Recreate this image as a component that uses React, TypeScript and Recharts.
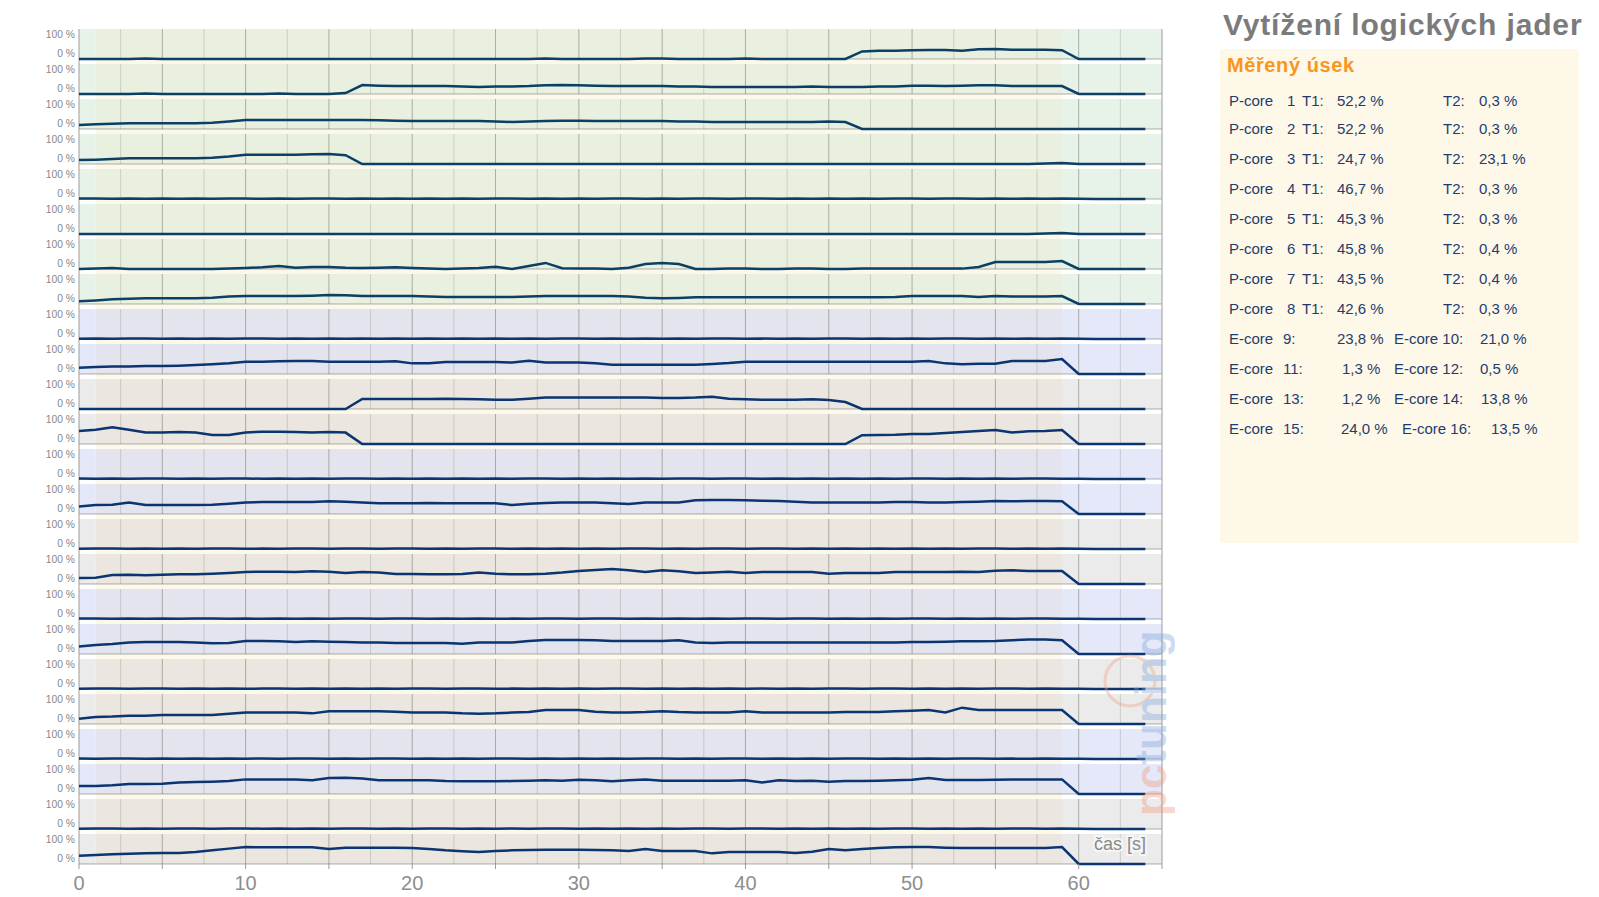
import React from 'react';
import { LineChart, Line, XAxis, YAxis, ReferenceArea, ReferenceLine } from 'recharts';

// time axis (seconds)
const timeSec: number[] = Array.from({ length: 65 }, (_, i) => i);

// per-row load values (%), one entry per second 0..64
const row01 = [0,0,0,0,3,0,0,0,0,0, 0,0,0,0,0,0,0,0,0,0, 0,0,0,0,0,0,0,0,2,0, 0,0,0,0,2,2,0,0,0,0, 2,0,0,0,0,0,0,40,44,44, 46,47,47,44,51,53,49,49,49,46, 0,0,0,0,0];
const row02 = [0,0,0,0,3,0,0,0,0,0, 0,0,3,0,0,0,5,47,44,42, 42,42,42,39,37,39,40,42,46,47, 46,44,42,42,42,42,39,39,37,37, 37,37,37,37,39,37,37,37,39,40, 44,44,42,44,46,46,42,42,42,42, 0,0,0,0,0];
const row03 = [21,25,28,30,30,30,30,30,33,40, 47,47,47,47,47,47,47,47,46,44, 42,42,42,42,42,40,37,40,42,44, 44,42,42,42,42,42,40,39,37,37, 37,37,37,37,37,40,37,0,0,0, 0,0,0,0,0,0,0,0,0,0, 0,0,0,0,0];
const row04 = [21,23,26,30,30,30,30,30,33,40, 49,49,49,49,51,53,46,0,0,0, 0,0,0,0,0,0,0,0,0,0, 0,0,0,0,0,0,0,0,0,0, 0,0,0,0,0,0,0,0,0,0, 0,0,0,0,0,0,0,0,2,5, 0,0,0,0,0];
const row05 = [2,3,1,3,1,2,1,2,1,3, 2,1,3,1,2,3,1,2,1,2, 1,3,1,2,1,2,3,1,2,1, 3,1,2,3,1,2,1,2,3,1, 3,2,1,2,1,3,1,2,1,2, 3,1,2,3,1,3,1,2,1,2, 1,0,0,0,0];
const row06 = [0,0,0,0,0,0,0,0,0,0, 0,0,0,0,0,0,0,0,0,0, 0,0,0,0,0,0,0,0,0,0, 0,0,0,0,0,0,0,0,0,0, 0,0,0,0,0,0,0,0,0,0, 0,0,0,0,0,0,0,0,2,5, 0,0,0,0,0];
const row07 = [0,3,5,0,0,0,0,0,0,2, 5,9,16,7,11,11,7,5,7,9, 5,2,0,3,5,12,0,16,32,4, 2,2,0,7,26,32,26,0,0,2, 2,0,0,2,2,0,0,2,2,2, 2,2,2,2,11,37,37,37,37,42, 0,0,0,0,0];
const row08 = [14,19,25,28,30,30,30,30,33,39, 42,42,42,42,44,47,46,42,42,42, 42,40,37,37,37,37,37,39,42,42, 42,42,42,39,33,30,32,35,35,35, 35,35,35,35,35,35,35,35,35,37, 42,42,42,42,37,42,39,39,39,42, 0,0,0,0,0];
const row09 = [1,3,1,2,3,1,2,1,3,1, 2,3,1,3,1,2,1,3,1,2, 1,2,1,3,1,2,1,3,1,2, 3,1,2,1,3,1,2,1,2,3, 1,2,1,3,1,2,3,1,2,1, 3,1,2,3,1,2,1,3,1,3, 1,0,0,0,0];
const row10 = [33,37,39,40,42,42,44,47,51,56, 65,65,67,68,68,65,65,65,65,67, 56,56,63,63,63,63,60,70,60,60, 60,56,49,49,49,49,49,49,53,58, 65,65,65,65,65,65,65,65,65,65, 65,68,56,51,54,54,68,68,68,79, 0,0,0,0,0];
const row11 = [0,0,0,0,0,0,0,0,0,0, 0,0,0,0,0,0,0,53,53,53, 53,53,54,53,51,49,49,54,60,61, 61,61,61,61,60,58,58,60,65,54, 51,49,49,49,51,47,37,0,0,0, 0,0,0,0,0,0,0,0,0,0, 0,0,0,0,0];
const row12 = [68,75,88,75,61,61,63,60,47,47, 61,65,65,63,60,63,60,0,0,0, 0,0,0,0,0,0,0,0,0,0, 0,0,0,0,0,0,0,0,0,0, 0,0,0,0,0,0,0,46,47,49, 53,53,58,63,68,74,61,67,68,74, 0,0,0,0,0];
const row13 = [2,1,3,1,2,3,1,2,1,2, 3,1,2,1,3,1,2,3,1,2, 1,3,1,2,1,3,1,2,3,1, 2,1,3,1,2,1,3,2,1,2, 3,1,2,1,3,1,2,1,3,1, 2,3,1,2,1,3,1,2,3,1, 1,0,0,0,0];
const row14 = [40,47,49,60,47,47,47,47,49,54, 60,63,63,63,63,67,65,60,56,56, 56,58,56,56,56,56,47,54,58,60, 60,60,56,53,60,60,61,72,74,74, 72,70,68,65,61,61,61,61,61,63, 63,61,61,63,65,68,67,68,68,67, 0,0,0,0,0];
const row15 = [1,2,3,1,2,1,3,1,2,3, 1,2,1,3,2,1,2,3,1,2, 3,1,2,1,2,3,1,3,1,2, 1,3,1,2,3,1,2,1,2,3, 1,2,3,1,2,1,3,1,2,1, 3,1,2,1,3,2,1,3,1,2, 1,0,0,0,0];
const row16 = [32,33,47,49,46,49,51,51,54,58, 63,65,65,63,67,65,58,63,60,53, 53,51,51,53,61,54,51,51,54,60, 68,74,79,72,63,72,67,58,61,65, 58,63,63,63,63,54,58,58,58,63, 63,63,63,65,63,70,72,68,68,68, 0,0,0,0,0];
const row17 = [2,3,1,2,1,3,1,2,3,1, 2,1,3,1,2,1,2,3,1,2, 3,1,2,1,3,1,2,1,3,2, 1,2,3,1,2,1,3,1,2,1, 3,2,1,2,3,1,2,1,3,1, 2,3,1,2,1,3,1,2,3,1, 1,0,0,0,0];
const row18 = [40,47,53,61,63,63,63,61,56,58, 68,68,67,63,67,65,63,61,60,58, 58,58,58,54,61,60,61,68,74,74, 74,72,68,68,68,68,72,61,58,60, 61,60,60,61,61,60,61,61,61,61, 63,63,65,67,67,68,72,77,77,72, 0,0,0,0,0];
const row19 = [1,3,2,1,2,3,1,2,1,3, 1,2,3,1,2,1,3,1,2,1, 2,3,1,2,3,1,2,1,3,1, 2,1,3,2,1,2,1,3,1,2, 1,3,1,2,1,3,2,1,2,3, 1,2,1,3,1,2,3,1,2,1, 1,0,0,0,0];
const row20 = [28,37,39,44,44,47,47,47,47,54, 61,61,61,61,56,67,67,67,67,65, 61,61,60,56,54,56,60,63,74,74, 74,65,61,61,63,67,63,61,60,60, 67,60,60,60,60,60,63,63,63,67, 70,74,61,86,74,74,74,74,74,74, 0,0,0,0,0];
const row21 = [2,1,2,3,1,2,1,3,1,2, 1,3,1,2,3,1,2,1,2,3, 1,2,1,3,1,2,3,1,2,1, 3,1,2,1,2,3,1,2,1,3, 2,1,3,1,2,1,2,3,1,2, 1,3,1,2,3,1,2,1,3,1, 1,0,0,0,0];
const row22 = [42,42,46,53,53,54,60,63,65,68, 77,77,77,77,72,84,86,82,72,72, 72,72,68,67,67,67,68,70,72,70, 75,72,67,72,77,70,70,70,70,70, 72,61,72,68,70,65,68,68,70,72, 75,84,74,74,74,75,77,77,77,77, 0,0,0,0,0];
const row23 = [1,2,3,1,2,1,2,3,1,2, 3,1,2,1,3,1,2,3,1,2, 1,3,2,1,2,1,3,1,2,3, 1,2,1,3,1,2,1,2,3,1, 2,3,1,2,1,3,1,2,1,3, 2,1,3,1,2,1,3,2,1,2, 1,0,0,0,0];
const row24 = [44,47,51,54,56,58,58,63,72,81, 89,88,88,88,88,79,86,86,86,86, 84,79,72,67,63,68,72,74,75,75, 75,74,72,68,79,68,68,68,56,63, 63,63,63,58,65,79,72,79,84,88, 89,89,86,84,84,84,84,84,84,89, 0,0,0,0,0];

const rows = [row01,row02,row03,row04,row05,row06,row07,row08,row09,row10,row11,row12,row13,row14,row15,row16,row17,row18,row19,row20,row21,row22,row23,row24];
const rowKinds = ['p','p','p','p','p','p','p','p','b','b','n','n','b','b','n','n','b','b','n','n','b','b','n','n'];

const yTickValues = [0, 100];
const xAxisTicks = [0,5,10,15,20,25,30,35,40,45,50,55,60,65];
const gridLinesX = [2.5,5,7.5,10,12.5,15,17.5,20,22.5,25,27.5,30,32.5,35,37.5,40,42.5,45,47.5,50,52.5,55,57.5,60,62.5];
const measuredFrom = 1;
const measuredTo = 59;

// legend / summary panel
const pCoreIds = ['1','2','3','4','5','6','7','8'];
const pCoreT1 = ['52,2 %','52,2 %','24,7 %','46,7 %','45,3 %','45,8 %','43,5 %','42,6 %'];
const pCoreT2 = ['0,3 %','0,3 %','23,1 %','0,3 %','0,3 %','0,4 %','0,4 %','0,3 %'];
const eCoreLeftIds = ['9:','11:','13:','15:'];
const eCoreLeftVals = ['23,8 %','1,3 %','1,2 %','24,0 %'];
const eCoreRightIds = ['E-core 10:','E-core 12:','E-core 14:','E-core 16:'];
const eCoreRightVals = ['21,0 %','0,5 %','13,8 %','13,5 %'];

// layout
const Y_MAX = 158;
const GAP_UNITS = 26.3;
const FONT = "'Liberation Sans', Arial, Helvetica, sans-serif";
const palettes: Record<string, { outer: string; inner: string; line: string }> = {
  p: { outer: '#e7f2e9', inner: '#e9f0e0', line: '#0b3f63' },
  b: { outer: '#e4e8f8', inner: '#e4e4ee', line: '#0a3570' },
  n: { outer: '#ebebeb', inner: '#ebe6df', line: '#0a3570' },
};
const legendBaselinesP = [106, 134.3, 164.3, 194.3, 224.3, 254.3, 284.3, 314.3];
const legendBaselinesE = [344.3, 374.3, 404.3, 434.3];
const eLeftValX = [1337, 1342, 1342, 1341];
const eRightIdX = [1394, 1394, 1394, 1402];
const eRightValX = [1480, 1480, 1481, 1491];

const YTick = (props: any) => {
  const { y, payload } = props;
  return (
    <text x={67} y={y - 2} textAnchor="end" fontSize={10.3} fontFamily={FONT} fill="#878787">
      {`${payload.value} %`}
    </text>
  );
};

const XTick = (props: any) => {
  const { x, y, payload } = props;
  if (payload.value % 10 !== 0) return <g />;
  return (
    <text x={x} y={y + 19} textAnchor="middle" fontSize={20} fontFamily={FONT} fill="#8e8e8e">
      {payload.value}
    </text>
  );
};

function CoreRow({ values, kind, last }: { values: number[]; kind: string; last: boolean }) {
  const pal = palettes[kind];
  const data = timeSec.map((t, i) => ({ t, v: values[i] }));
  const bottomY = last ? 0 : -GAP_UNITS;
  return (
    <LineChart
      width={1160}
      height={last ? 64 : 35}
      data={data}
      margin={{ top: 0, right: 6, bottom: last ? 0 : 5, left: 0 }}
      style={{ display: 'block' }}
    >
      <XAxis
        dataKey="t"
        type="number"
        domain={[0, 65]}
        ticks={xAxisTicks}
        interval={0}
        hide={!last}
        height={last ? 34 : 0}
        axisLine={false}
        tickLine={{ stroke: '#9a9a9a' }}
        tickSize={5}
        tick={(p: any) => <XTick {...p} />}
      />
      <YAxis
        type="number"
        domain={[0, Y_MAX]}
        ticks={yTickValues}
        interval={0}
        width={71}
        axisLine={false}
        tickLine={false}
        tick={(p: any) => <YTick {...p} />}
      />
      <ReferenceArea x1={0} x2={measuredFrom} fill={pal.outer} fillOpacity={1} stroke="none" zIndex={-300} />
      <ReferenceArea x1={measuredFrom} x2={measuredTo} fill={pal.inner} fillOpacity={1} stroke="none" zIndex={-300} />
      <ReferenceArea x1={measuredTo} x2={65} fill={pal.outer} fillOpacity={1} stroke="none" zIndex={-300} />
      {!last && (
        <ReferenceArea
          x1={measuredFrom}
          x2={measuredTo}
          y1={-GAP_UNITS}
          y2={0}
          fill="#fdf8ec"
          fillOpacity={1}
          stroke="none"
          ifOverflow="visible"
          zIndex={-300}
        />
      )}
      {gridLinesX.map((g) => (
        <ReferenceLine
          key={g}
          x={g}
          stroke={g % 5 === 0 ? 'rgba(80,85,75,0.42)' : 'rgba(80,85,75,0.2)'}
          strokeWidth={1}
          zIndex={-200}
        />
      ))}
      <ReferenceLine y={0} stroke="rgba(80,85,75,0.45)" strokeWidth={1} zIndex={-150} />
      <ReferenceLine
        segment={[{ x: 0, y: bottomY }, { x: 0, y: Y_MAX }]}
        stroke="#9c9c9c"
        strokeWidth={1}
        ifOverflow="visible"
        zIndex={-150}
      />
      <ReferenceLine
        segment={[{ x: 65, y: bottomY }, { x: 65, y: Y_MAX }]}
        stroke="#9c9c9c"
        strokeWidth={1}
        ifOverflow="visible"
        zIndex={-150}
      />
      <Line
        type="linear"
        dataKey="v"
        stroke={pal.line}
        strokeWidth={2.5}
        dot={false}
        activeDot={false}
        isAnimationActive={false}
      />
    </LineChart>
  );
}

export default function App() {
  const legendColor = '#1e3d6e';
  return (
    <div
      style={{
        position: 'fixed',
        left: 0,
        top: 0,
        width: 1599,
        height: 897,
        overflow: 'hidden',
        background: '#ffffff',
        fontFamily: FONT,
      }}
    >
      <div style={{ position: 'absolute', left: 8, top: 29 }}>
        {rows.map((vals, i) => (
          <CoreRow key={i} values={vals} kind={rowKinds[i]} last={i === rows.length - 1} />
        ))}
      </div>
      <svg
        width={1599}
        height={897}
        style={{ position: 'absolute', left: 0, top: 0, pointerEvents: 'none' }}
        fontFamily={FONT}
      >
        {/* watermark */}
        <g opacity={0.38}>
          <circle cx={1130} cy={681} r={25} fill="none" stroke="#f0a080" strokeWidth={3} />
          <g transform="translate(1166,816) rotate(-90)">
            <text x={0} y={0} fontSize={44} fontWeight="bold">
              <tspan fill="#f09a78">pc</tspan>
              <tspan fill="#7fa6dc">tuning</tspan>
            </text>
          </g>
        </g>
        {/* axis title */}
        <text
          x={1120}
          y={849.5}
          textAnchor="middle"
          fontSize={18}
          fill="#8a8a8a"
          stroke="#f6f6f6"
          strokeWidth={4}
          paintOrder="stroke"
        >
          čas [s]
        </text>

        {/* right panel */}
        <text x={1223} y={35} fontSize={30} fontWeight="bold" fill="#7b7b7b" letterSpacing={0.85}>
          Vytížení logických jader
        </text>
        <rect x={1220} y={49} width={359} height={494} fill="#fef8e8" />
        <text x={1227} y={71.7} fontSize={20} fontWeight="bold" fill="#f8961e" letterSpacing={0.6}>
          Měřený úsek
        </text>
        {pCoreIds.map((id, i) => (
          <g key={id} fontSize={15} fill={legendColor}>
            <text x={1229} y={legendBaselinesP[i]}>P-core</text>
            <text x={1287} y={legendBaselinesP[i]}>{id}</text>
            <text x={1302} y={legendBaselinesP[i]}>T1:</text>
            <text x={1337} y={legendBaselinesP[i]}>{pCoreT1[i]}</text>
            <text x={1443} y={legendBaselinesP[i]}>T2:</text>
            <text x={1479} y={legendBaselinesP[i]}>{pCoreT2[i]}</text>
          </g>
        ))}
        {eCoreLeftIds.map((id, i) => (
          <g key={id} fontSize={15} fill={legendColor}>
            <text x={1229} y={legendBaselinesE[i]}>E-core</text>
            <text x={1283} y={legendBaselinesE[i]}>{id}</text>
            <text x={eLeftValX[i]} y={legendBaselinesE[i]}>{eCoreLeftVals[i]}</text>
            <text x={eRightIdX[i]} y={legendBaselinesE[i]}>{eCoreRightIds[i]}</text>
            <text x={eRightValX[i]} y={legendBaselinesE[i]}>{eCoreRightVals[i]}</text>
          </g>
        ))}
      </svg>
    </div>
  );
}
